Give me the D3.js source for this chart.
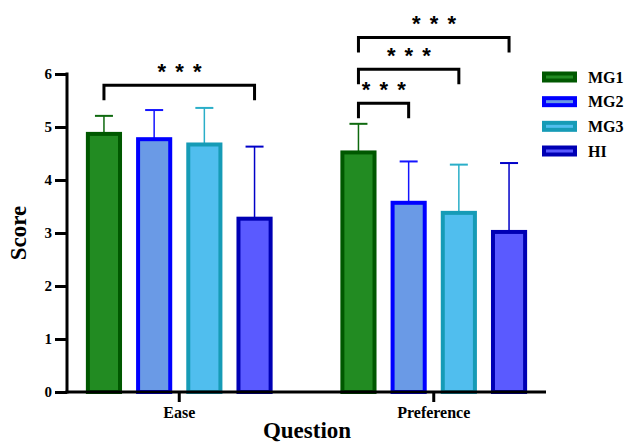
<!DOCTYPE html>
<html><head><meta charset="utf-8">
<script src="https://cdn.jsdelivr.net/npm/d3@7"></script>
<style>body{margin:0;background:#fff}svg{display:block}text{font-family:"Liberation Serif","Times New Roman",serif;font-weight:bold}</style>
</head><body><svg id="c" width="629" height="444"></svg>
<script>
const questions = ["Ease", "Preference"];
const series = ["MG1", "MG2", "MG3", "HI"];
const meanEase = [4.87, 4.77, 4.67, 3.27];
const meanPref = [4.52, 3.57, 3.38, 3.02];
const errUpperEase = [5.21, 5.32, 5.36, 4.63];
const errUpperPref = [5.06, 4.35, 4.29, 4.32];
const yTicks = [0, 1, 2, 3, 4, 5, 6];
const fills = ["#228B22", "#6A9AE6", "#50BEEE", "#5A5AFF"];
const strokes = ["#005800", "#0000FF", "#169BB6", "#0000B4"];
const errColors = ["#0E690E", "#1414FF", "#2AAEC8", "#0000C8"];
const comparisons = [
  {q: "Ease", a: "MG1", b: "HI", level: 5.79, label: "* * *"},
  {q: "Preference", a: "MG1", b: "MG2", level: 5.45, label: "* * *"},
  {q: "Preference", a: "MG1", b: "MG3", level: 6.09, label: "* * *"},
  {q: "Preference", a: "MG1", b: "HI", level: 6.69, label: "* * *"}
];

const svg = d3.select("#c");
const y = d3.scaleLinear().domain([0, 6]).range([392, 74]);
const x0 = d3.scaleBand().domain(questions).range([52, 561]).padding(0);
const x1 = d3.scaleBand().domain(series).range([0, x0.bandwidth()]).paddingInner(0.28).paddingOuter(0.675);
const sw = 4;

const data = [];
questions.forEach((q, qi) => {
  const m = qi === 0 ? meanEase : meanPref;
  const e = qi === 0 ? errUpperEase : errUpperPref;
  series.forEach((s, si) => data.push({q, s, si, v: m[si], up: e[si]}));
});
const cx = d => x0(d.q) + x1(d.s) + x1.bandwidth() / 2;

// error bars (behind bars)
const eg = svg.append("g");
eg.selectAll("line.v").data(data).join("line")
  .attr("x1", cx).attr("x2", cx).attr("y1", d => y(d.v)).attr("y2", d => y(d.up))
  .attr("stroke", d => errColors[d.si]).attr("stroke-width", 1.5);
eg.selectAll("line.c").data(data).join("line")
  .attr("x1", d => cx(d) - 9).attr("x2", d => cx(d) + 9).attr("y1", d => y(d.up)).attr("y2", d => y(d.up))
  .attr("stroke", d => errColors[d.si]).attr("stroke-width", 2);

// bars
svg.append("g").selectAll("rect").data(data).join("rect")
  .attr("x", d => x0(d.q) + x1(d.s) + sw / 2)
  .attr("width", x1.bandwidth() - sw)
  .attr("y", d => y(d.v))
  .attr("height", d => y(0) - y(d.v))
  .attr("fill", d => fills[d.si])
  .attr("stroke", d => strokes[d.si]).attr("stroke-width", sw);

// y axis
const ya = svg.append("g").attr("transform", "translate(67,0)")
  .call(d3.axisLeft(y).tickValues(yTicks).tickSize(12).tickPadding(3).tickFormat(d3.format("d")));
ya.select(".domain").remove();
ya.selectAll(".tick line").attr("stroke", "#000").attr("stroke-width", 3);
ya.selectAll(".tick text").attr("font-size", 15).attr("fill", "#000")
  .style("font-family", '"Liberation Serif",serif').style("font-weight", "bold");
ya.append("line").attr("x1", 0).attr("x2", 0).attr("y1", y(6) - 1.5).attr("y2", y(0) + 1.5)
  .attr("stroke", "#000").attr("stroke-width", 3);

// x axis
const xa = svg.append("g").attr("transform", "translate(0,392)")
  .call(d3.axisBottom(x0).tickSize(10).tickPadding(5));
xa.select(".domain").remove();
xa.selectAll(".tick line").attr("stroke", "#000").attr("stroke-width", 3);
xa.selectAll(".tick text").attr("font-size", 16).attr("fill", "#000")
  .style("font-family", '"Liberation Serif",serif').style("font-weight", "bold");
xa.append("line").attr("x1", 65.5).attr("x2", 546).attr("y1", 0).attr("y2", 0)
  .attr("stroke", "#000").attr("stroke-width", 3);

// axis titles
svg.append("text").attr("transform", `translate(26,${(y(0) + y(6)) / 2}) rotate(-90)`)
  .attr("text-anchor", "middle").attr("font-size", 23).text("Score");
svg.append("text").attr("x", 307).attr("y", 438).attr("text-anchor", "middle")
  .attr("font-size", 23).text("Question");

// significance brackets
const bx = (q, s) => x0(q) + x1(s) + x1.bandwidth() / 2;
const bg = svg.append("g");
comparisons.forEach(c => {
  const xa_ = bx(c.q, c.a), xb = bx(c.q, c.b), yy = y(c.level);
  bg.append("path")
    .attr("d", `M${xa_},${yy + 15}V${yy}H${xb}V${yy + 15}`)
    .attr("fill", "none").attr("stroke", "#000").attr("stroke-width", 3);
  bg.append("text").attr("x", (xa_ + xb) / 2 + 1).attr("y", yy - 6)
    .attr("text-anchor", "middle").attr("font-size", 22)
    .style("font-family", '"Liberation Sans",Arial,sans-serif').attr("letter-spacing", 1.5)
    .text(c.label);
});

// legend
const lg = svg.append("g").attr("transform", "translate(544,0)");
const ly = d3.scalePoint().domain(series).range([77, 151]);
series.forEach((s, i) => {
  lg.append("rect").attr("x", 0).attr("y", ly(s) - 3.5).attr("width", 31).attr("height", 7)
    .attr("fill", fills[i]).attr("stroke", strokes[i]).attr("stroke-width", 4);
  lg.append("text").attr("x", 44).attr("y", ly(s) + 5.5).attr("font-size", 16).text(s);
});
</script></body></html>
